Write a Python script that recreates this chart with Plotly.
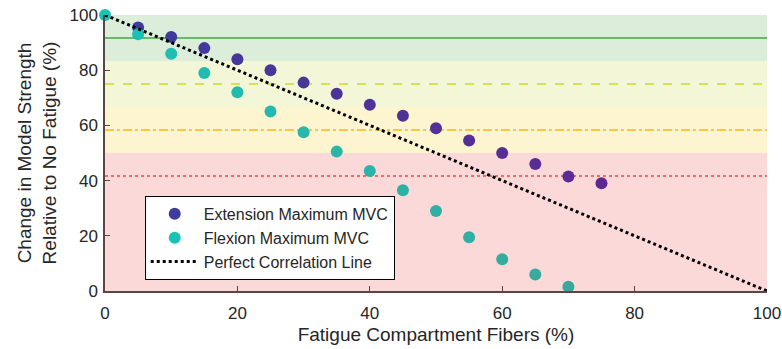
import plotly.graph_objects as go

fatigue_x_ext = [5, 10, 15, 20, 25, 30, 35, 40, 45, 50, 55, 60, 65, 70, 75]
extension_vals = [95.5, 92, 88, 84, 80, 75.5, 71.5, 67.5, 63.5, 59, 54.5, 50, 46, 41.5, 39]
fatigue_x_flex = [0, 5, 10, 15, 20, 25, 30, 35, 40, 45, 50, 55, 60, 65, 70]
flexion_vals = [100, 93, 86, 79, 72, 65, 57.5, 50.5, 43.5, 36.5, 29, 19.5, 11.5, 6, 1.5]
perfect_x = [0, 100]
perfect_y = [100, 0]
band_edges = [100, 83.33, 66.67, 50, 0]
band_colors = ["#dcedda", "#f4f6d8", "#fdf5d0", "#fad9d8"]
threshold_vals = [91.67, 75, 58.33, 41.67]
threshold_colors = ["#6ab86a", "#d8e05a", "#f7c840", "#f06a6a"]
threshold_dash = ["solid", "dash", "dashdot", "dot"]
tick_vals = [0, 20, 40, 60, 80, 100]


def lerp_colors(c1, c2, n):
    a = [int(c1[i:i + 2], 16) for i in (1, 3, 5)]
    b = [int(c2[i:i + 2], 16) for i in (1, 3, 5)]
    out = []
    for k in range(n):
        t = k / (n - 1)
        out.append("rgb(%d,%d,%d)" % tuple(round(a[j] + (b[j] - a[j]) * t) for j in range(3)))
    return out


fig = go.Figure()

for i, col in enumerate(band_colors):
    fig.add_shape(type="rect", xref="x", yref="y", x0=0, x1=100,
                  y0=band_edges[i + 1], y1=band_edges[i], fillcolor=col,
                  line_width=0, layer="below")
for v, c, d in zip(threshold_vals, threshold_colors, threshold_dash):
    fig.add_shape(type="line", xref="x", yref="y", x0=0, x1=100, y0=v, y1=v,
                  line=dict(color=c, width=2, dash=d), layer="below")

fig.add_trace(go.Scatter(
    x=fatigue_x_ext, y=extension_vals, mode="markers", name="Extension Maximum MVC",
    marker=dict(size=12, color=lerp_colors("#3c3c9c", "#5e2a92", len(extension_vals)))))
fig.add_trace(go.Scatter(
    x=fatigue_x_flex, y=flexion_vals, mode="markers", name="Flexion Maximum MVC",
    marker=dict(size=12, color=lerp_colors("#19c2b6", "#3aa89c", len(flexion_vals)))))
fig.add_trace(go.Scatter(
    x=perfect_x, y=perfect_y, mode="lines", name="Perfect Correlation Line",
    line=dict(color="black", width=3, dash="dot")))

fig.update_layout(
    width=782, height=349,
    margin=dict(l=105, r=15, t=15, b=58, autoexpand=False),
    paper_bgcolor="white", plot_bgcolor="white",
    font=dict(family="Liberation Sans, Arial, sans-serif", size=17, color="#262626"),
    legend=dict(x=0.06, y=0.04, xanchor="left", yanchor="bottom",
                bgcolor="white", bordercolor="black", borderwidth=1,
                font=dict(size=16), tracegroupgap=0, itemwidth=48),
)
fig.update_traces(cliponaxis=False)
fig.update_xaxes(range=[0, 100], tickvals=tick_vals, showgrid=False, zeroline=False,
                 showline=True, linecolor="#5a4646", linewidth=1.5, automargin=False,
                 ticks="inside", ticklen=5, tickcolor="#5a4646", ticklabelstandoff=6,
                 title=dict(text="Fatigue Compartment Fibers (%)", font=dict(size=19), standoff=6))
fig.update_yaxes(range=[0, 100], tickvals=tick_vals, showgrid=False, zeroline=False,
                 showline=True, linecolor="#5a4646", linewidth=1.5, automargin=False,
                 ticks="inside", ticklen=5, tickcolor="#5a4646", ticklabelstandoff=2,
                 title=dict(text="Change in Model Strength<br>Relative to No Fatigue (%)",
                            font=dict(size=19), standoff=8))

fig.write_html("out.html")
